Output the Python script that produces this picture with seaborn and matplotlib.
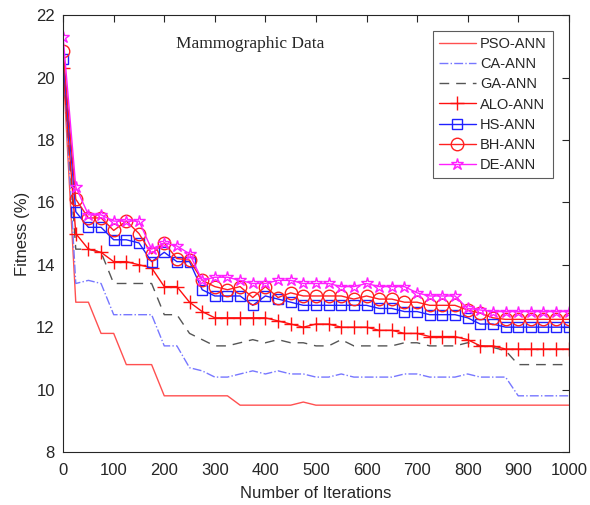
import matplotlib
matplotlib.use("Agg")
import matplotlib.pyplot as plt
import seaborn as sns
import pandas as pd

iterations = [0, 25, 50, 75, 100, 125, 150, 175, 200, 225, 250, 275, 300, 325, 350,
              375, 400, 425, 450, 475, 500, 525, 550, 575, 600, 625, 650, 675, 700,
              725, 750, 775, 800, 825, 850, 875, 900, 925, 950, 975, 1000]

pso = [20.3, 12.8, 12.8, 11.8, 11.8, 10.8, 10.8, 10.8, 9.8, 9.8, 9.8, 9.8, 9.8, 9.8, 9.5,
       9.5, 9.5, 9.5, 9.5, 9.6, 9.5, 9.5, 9.5, 9.5, 9.5, 9.5, 9.5, 9.5, 9.5,
       9.5, 9.5, 9.5, 9.5, 9.5, 9.5, 9.5, 9.5, 9.5, 9.5, 9.5, 9.5]
ca = [20.6, 13.4, 13.5, 13.4, 12.4, 12.4, 12.4, 12.4, 11.4, 11.4, 10.7, 10.6, 10.4, 10.4, 10.5,
      10.6, 10.5, 10.6, 10.5, 10.5, 10.4, 10.4, 10.5, 10.4, 10.4, 10.4, 10.4, 10.5, 10.5,
      10.4, 10.4, 10.4, 10.5, 10.4, 10.4, 10.4, 9.8, 9.8, 9.8, 9.8, 9.8]
ga = [20.5, 14.5, 14.5, 14.4, 13.4, 13.4, 13.4, 13.4, 12.4, 12.4, 11.8, 11.6, 11.4, 11.4, 11.5,
      11.6, 11.5, 11.6, 11.5, 11.5, 11.4, 11.4, 11.6, 11.4, 11.4, 11.4, 11.4, 11.5, 11.5,
      11.4, 11.4, 11.4, 11.5, 11.4, 11.35, 11.25, 10.8, 10.8, 10.8, 10.8, 10.8]
alo = [20.3, 15.0, 14.5, 14.4, 14.1, 14.1, 14.0, 13.9, 13.3, 13.3, 12.8, 12.5, 12.3, 12.3, 12.3,
       12.3, 12.3, 12.2, 12.1, 12.0, 12.1, 12.1, 12.0, 12.0, 12.0, 11.9, 11.9, 11.8, 11.8,
       11.7, 11.7, 11.7, 11.6, 11.4, 11.4, 11.3, 11.3, 11.3, 11.3, 11.3, 11.3]
hs = [20.6, 15.7, 15.2, 15.2, 14.8, 14.8, 14.7, 14.1, 14.4, 14.1, 14.1, 13.2, 13.0, 13.0, 13.0,
      12.7, 13.0, 12.9, 12.8, 12.7, 12.7, 12.7, 12.7, 12.7, 12.7, 12.6, 12.6, 12.5, 12.5,
      12.4, 12.4, 12.4, 12.3, 12.1, 12.1, 12.0, 12.0, 12.0, 12.0, 12.0, 12.0]
bh = [20.85, 16.1, 15.5, 15.5, 15.1, 15.4, 15.0, 14.35, 14.7, 14.2, 14.15, 13.5, 13.3, 13.2, 13.3,
      12.95, 13.3, 12.95, 13.1, 13.0, 13.0, 13.0, 13.0, 12.9, 13.0, 12.9, 12.9, 12.8, 12.8,
      12.7, 12.7, 12.7, 12.55, 12.45, 12.3, 12.25, 12.25, 12.25, 12.25, 12.25, 12.25]
de = [21.3, 16.5, 15.6, 15.6, 15.4, 15.4, 15.4, 14.5, 14.7, 14.6, 14.35, 13.5, 13.6, 13.6, 13.5,
      13.4, 13.4, 13.5, 13.5, 13.4, 13.4, 13.4, 13.3, 13.3, 13.4, 13.3, 13.3, 13.3, 13.1,
      13.0, 13.0, 13.0, 12.6, 12.55, 12.5, 12.5, 12.5, 12.5, 12.5, 12.5, 12.5]

series_names = ["PSO-ANN", "CA-ANN", "GA-ANN", "ALO-ANN", "HS-ANN", "BH-ANN", "DE-ANN"]
series_values = [pso, ca, ga, alo, hs, bh, de]

styles = {
    "PSO-ANN": dict(color="#ff5050", linestyle="-", marker=None),
    "CA-ANN": dict(color="#7777ff", linestyle="-.", marker=None),
    "GA-ANN": dict(color="#555555", linestyle=(0, (7, 5)), marker=None),
    "ALO-ANN": dict(color="#ff1010", linestyle="-", marker="+", markersize=10),
    "HS-ANN": dict(color="#2020ff", linestyle="-", marker="s", markersize=6.5),
    "BH-ANN": dict(color="#ff2020", linestyle="-", marker="o", markersize=9),
    "DE-ANN": dict(color="#ff20ff", linestyle="-", marker="*", markersize=9),
}

sns.set_style("white")
plt.rcParams["font.family"] = ["Liberation Sans", "DejaVu Sans"]

fig = plt.figure(figsize=(5.9, 5.05), dpi=100)
ax = fig.add_axes([0.107, 0.105, 0.857, 0.865])

for name, vals in zip(series_names, series_values):
    df = pd.DataFrame({"Iteration": iterations, "Fitness": vals})
    st = styles[name]
    kw = dict(color=st["color"], linestyle=st["linestyle"], linewidth=1.0, label=name)
    if st["marker"]:
        kw.update(marker=st["marker"], markersize=st["markersize"],
                  markerfacecolor="none", markeredgecolor=st["color"], markeredgewidth=1.0)
    sns.lineplot(data=df, x="Iteration", y="Fitness", ax=ax, **kw)

ax.set_xlim(0, 1000)
ax.set_ylim(8, 22)
ax.set_xticks(range(0, 1001, 100))
ax.set_yticks(range(8, 23, 2))
ax.tick_params(direction="in", length=5, top=True, right=True, labelsize=12,
               colors="#262626", width=0.8)
ax.tick_params(axis="x", pad=8)
ax.tick_params(axis="y", pad=6)
for sp in ax.spines.values():
    sp.set_visible(True)
    sp.set_color("#262626")
    sp.set_linewidth(0.8)
ax.set_xlabel("Number of Iterations", fontsize=12, color="#262626", labelpad=6)
ax.set_ylabel("Fitness (%)", fontsize=12, color="#262626", labelpad=4)

ax.text(0.37, 0.935, "Mammographic Data", transform=ax.transAxes, ha="center",
        va="center", fontsize=12.5, family=["Liberation Serif", "DejaVu Serif"])

leg = ax.legend(loc="upper right", bbox_to_anchor=(0.968, 0.963), borderaxespad=0,
                fontsize=10.5, frameon=True, fancybox=False, edgecolor="#333333",
                handlelength=2.5, handletextpad=0.3, labelspacing=0.42, borderpad=0.4)
leg.get_frame().set_linewidth(0.8)

fig.savefig("out.png", dpi=100)
